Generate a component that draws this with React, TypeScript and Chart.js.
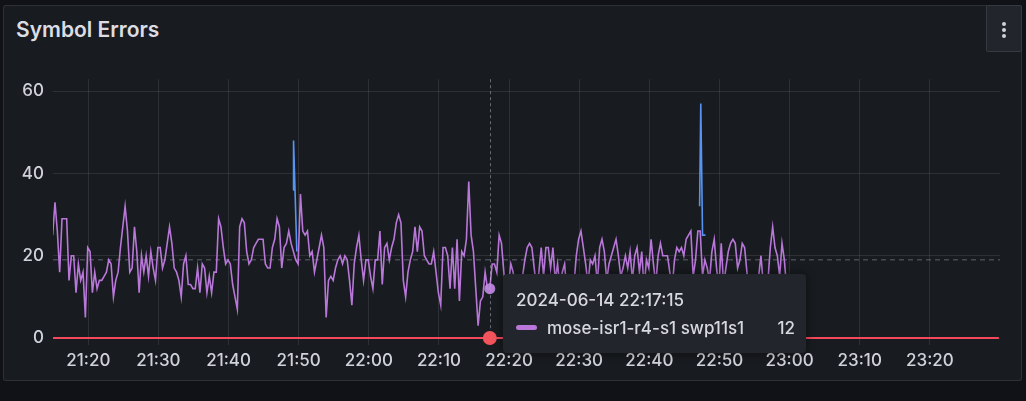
import React, { useEffect, useRef } from "react";
import { Chart, registerables } from "chart.js";

Chart.register(...registerables);

// ---------- data ----------
const TITLE = "Symbol Errors";
const SERIES_NAME = "mose-isr1-r4-s1 swp11s1";
const HOVER_LABEL = "2024-06-14 22:17:15";

// seconds since midnight
const START_TIME = 76495; // 21:14:55
const STEP_SECONDS = 20;
const X_MIN = 76498;
const X_MAX = 84600;
const HOVER_INDEX = 187; // 22:17:15

const xTickLabels = ["21:20", "21:30", "21:40", "21:50", "22:00", "22:10", "22:20", "22:30", "22:40", "22:50", "23:00", "23:10", "23:20"];
const yTickValues = [0, 20, 40, 60];
const Y_MIN = -1.7;
const Y_MAX = 62.9;

const purpleValues = [
  25, 33, 26, 16, 29, 29, 29, 14, 20, 20, 11, 18, 14, 16, 5, 22, 21, 11, 16, 12,
  14, 14, 15, 16, 19, 18, 10, 14, 16, 22, 27, 32, 26, 16, 17, 27, 21, 11, 20, 16,
  20, 15, 21, 17, 14, 22, 22, 17, 19, 23, 27, 23, 17, 16, 14, 10, 18, 20, 13, 13,
  12, 12, 17, 11, 18, 17, 11, 15, 11, 16, 16, 29, 27, 22, 18, 19, 18, 13, 10, 7,
  27, 29, 28, 21, 18, 19, 22, 23, 24, 24, 24, 18, 17, 17, 22, 24, 29, 27, 17, 22,
  23, 26, 23, 21, 19, 18, 35, 26, 25, 26, 20, 21, 16, 19, 22, 25, 22, 5, 14, 15,
  14, 17, 19, 20, 18, 20, 19, 14, 8, 18, 22, 25, 19, 14, 19, 19, 15, 12, 19, 19,
  26, 13, 22, 23, 19, 22, 24, 28, 30, 28, 14, 10, 16, 19, 21, 27, 21, 27, 26, 20,
  19, 18, 18, 21, 16, 11, 8, 22, 22, 20, 12, 22, 12, 24, 9, 21, 20, 24, 38, 25,
  21, 12, 3, 9, 10, 16, 12, 12, 18, 18, 16, 25, 23, 16, 10, 13, 18, 16, 8, 12,
  9, 15, 19, 22, 23, 22, 17, 12, 16, 22, 15, 22, 22, 17, 22, 14, 18, 12, 16, 18,
  11, 14, 9, 13, 20, 24, 26, 22, 18, 13, 19, 18, 20, 13, 22, 24, 21, 14, 18, 20,
  22, 24, 20, 15, 17, 20, 17, 21, 14, 20, 22, 16, 21, 12, 19, 17, 24, 18, 13, 20,
  23, 20, 20, 20, 16, 12, 19, 22, 21, 22, 20, 24, 25, 26, 15, 19, 26, 26, 15, 19,
  17, 14, 21, 24, 17, 12, 23, 13, 17, 21, 23, 24, 23, 17, 19, 23, 22, 16, 12, 14,
  11, 13, 15, 20, 13, 10, 14, 22, 27, 22, 20, 15, 23, 19, 12,
];

// blue series: two short bursts (null separates them)
const blueTimes = [78552, 78556, 78584, 80000, 82030, 82040, 82055, 82080];
const blueValues = [36, 48, 21, null, 32, 57, 25, 25];

// red series: flat at zero
const redTimes = [76498, 84590];
const redValues = [0, 0];

// dashed reference line
const dashedTimes = [X_MIN, X_MAX];
const dashedValues = [19, 19];

const PURPLE = "#B877D9";
const BLUE = "#5794F2";
const RED = "#F2495C";
const TEXT = "#d0d1da";
const FONT = "Inter, 'Noto Sans', sans-serif";

const toSec = (s: string) => {
  const [h, m] = s.split(":").map(Number);
  return h * 3600 + m * 60;
};
const xTickValues = xTickLabels.map(toSec);

function roundRect(ctx: CanvasRenderingContext2D, x: number, y: number, w: number, h: number, r: number) {
  ctx.beginPath();
  ctx.moveTo(x + r, y);
  ctx.lineTo(x + w - r, y);
  ctx.arcTo(x + w, y, x + w, y + r, r);
  ctx.lineTo(x + w, y + h - r);
  ctx.arcTo(x + w, y + h, x + w - r, y + h, r);
  ctx.lineTo(x + r, y + h);
  ctx.arcTo(x, y + h, x, y + h - r, r);
  ctx.lineTo(x, y + r);
  ctx.arcTo(x, y, x + r, y, r);
  ctx.closePath();
}

const hoverPlugin = {
  id: "hoverOverlay",
  afterDraw(chart: any) {
    const { ctx, chartArea, scales } = chart;
    const t = START_TIME + HOVER_INDEX * STEP_SECONDS;
    const v = purpleValues[HOVER_INDEX];
    const px = scales.x.getPixelForValue(t);
    const py = scales.y.getPixelForValue(v);
    const pr = scales.y.getPixelForValue(redValues[0]);
    ctx.save();
    // crosshair
    ctx.strokeStyle = "rgba(204,204,220,0.45)";
    ctx.lineWidth = 1;
    ctx.setLineDash([3, 3]);
    ctx.beginPath();
    ctx.moveTo(Math.round(px) + 0.5, chartArea.top);
    ctx.lineTo(Math.round(px) + 0.5, chartArea.bottom);
    ctx.stroke();
    ctx.setLineDash([]);
    // hover points
    ctx.fillStyle = "rgba(196,140,228,0.9)";
    ctx.beginPath();
    ctx.arc(px, py, 5.5, 0, Math.PI * 2);
    ctx.fill();
    ctx.fillStyle = "#F2545B";
    ctx.beginPath();
    ctx.arc(px, pr, 7, 0, Math.PI * 2);
    ctx.fill();
    // tooltip
    const bx = Math.round(px) + 13;
    const by = Math.round(py) - 15;
    const bw = 303;
    const bh = 79;
    ctx.shadowColor = "rgba(0,0,0,0.45)";
    ctx.shadowBlur = 10;
    ctx.fillStyle = "#22252b";
    roundRect(ctx, bx, by, bw, bh, 4);
    ctx.fill();
    ctx.shadowBlur = 0;
    ctx.shadowColor = "transparent";
    ctx.fillStyle = "#d8d9e0";
    ctx.textBaseline = "alphabetic";
    ctx.textAlign = "left";
    ctx.font = `500 17px ${FONT}`;
    ctx.fillText(HOVER_LABEL, bx + 13, by + 32);
    ctx.fillStyle = PURPLE;
    roundRect(ctx, bx + 13, by + 51, 21, 5, 2.5);
    ctx.fill();
    ctx.fillStyle = "#d8d9e0";
    ctx.font = `500 17px ${FONT}`;
    ctx.fillText(SERIES_NAME, bx + 44, by + 60);
    ctx.textAlign = "right";
    ctx.fillText(String(v), bx + bw - 11, by + 60);
    ctx.restore();
  },
};

export default function App() {
  const canvasRef = useRef<HTMLCanvasElement | null>(null);

  useEffect(() => {
    document.body.style.margin = "0";
    const canvas = canvasRef.current;
    if (!canvas) return;
    const purpleData = purpleValues.map((y, i) => ({ x: START_TIME + i * STEP_SECONDS, y }));
    const blueData = blueTimes.map((x, i) => ({ x, y: blueValues[i] }));
    const redData = redTimes.map((x, i) => ({ x, y: redValues[i] }));
    const dashedData = dashedTimes.map((x, i) => ({ x, y: dashedValues[i] }));

    const chart = new Chart(canvas, {
      type: "line",
      data: {
        datasets: [
          { label: "blue", data: blueData as any, borderColor: BLUE, borderWidth: 1.6, pointRadius: 0, spanGaps: false, tension: 0 },
          { label: SERIES_NAME, data: purpleData, borderColor: PURPLE, borderWidth: 1.6, pointRadius: 0, tension: 0 },
          { label: "red", data: redData, borderColor: RED, borderWidth: 2, pointRadius: 0 },
          { label: "ref", data: dashedData, borderColor: "rgba(204,204,220,0.4)", borderWidth: 1, borderDash: [5, 4], pointRadius: 0 },
        ],
      },
      options: {
        responsive: false,
        animation: false,
        devicePixelRatio: 1,
        parsing: false as any,
        normalized: true,
        layout: { padding: { left: 0, right: 26, top: 17, bottom: 0 } },
        plugins: { legend: { display: false }, tooltip: { enabled: false } },
        events: [],
        scales: {
          x: {
            type: "linear",
            min: X_MIN,
            max: X_MAX,
            afterBuildTicks: (s: any) => {
              s.ticks = xTickValues.map((value) => ({ value }));
            },
            afterFit: (s: any) => {
              s.height = 35;
            },
            grid: { color: "rgba(204,204,220,0.12)", drawTicks: false },
            border: { display: false },
            ticks: {
              autoSkip: false,
              maxRotation: 0,
              padding: 6,
              color: TEXT,
              font: { family: FONT, size: 17, weight: "500" as any },
              callback: (_v: any, i: number) => xTickLabels[i],
            },
          },
          y: {
            type: "linear",
            min: Y_MIN,
            max: Y_MAX,
            afterBuildTicks: (s: any) => {
              s.ticks = yTickValues.map((value) => ({ value }));
            },
            afterFit: (s: any) => {
              s.width = 53;
            },
            grid: { color: "rgba(204,204,220,0.12)", drawTicks: false },
            border: { display: false },
            ticks: {
              padding: 9,
              color: TEXT,
              font: { family: FONT, size: 17, weight: "500" as any },
              callback: (v: any) => String(v),
            },
          },
        },
      },
      plugins: [hoverPlugin],
    });
    return () => chart.destroy();
  }, []);

  return (
    <div style={{ position: "fixed", left: 0, top: 0, width: 1026, height: 401, background: "#111217", overflow: "hidden", fontFamily: FONT }}>
      <div
        style={{
          position: "absolute",
          left: 3,
          top: 5,
          width: 1019,
          height: 376,
          background: "#181b1f",
          border: "1px solid rgba(204,204,220,0.12)",
          borderRadius: 3,
          boxSizing: "border-box",
        }}
      />
      <div style={{ position: "absolute", left: 16, top: 18, fontSize: 21, lineHeight: "24px", fontWeight: 600, color: "#dcdde3" }}>{TITLE}</div>
      <div
        style={{
          position: "absolute",
          left: 986,
          top: 5,
          width: 36,
          height: 47,
          background: "#22252b",
          border: "1px solid rgba(204,204,220,0.12)",
          borderRadius: 2,
          boxSizing: "border-box",
        }}
      >
        {[16, 22, 28].map((t) => (
          <div key={t} style={{ position: "absolute", left: 15, top: t, width: 3.5, height: 3.5, borderRadius: 2, background: TEXT }} />
        ))}
      </div>
      <canvas ref={canvasRef} width={1026} height={320} style={{ position: "absolute", left: 0, top: 60, width: 1026, height: 320 }} />
    </div>
  );
}
